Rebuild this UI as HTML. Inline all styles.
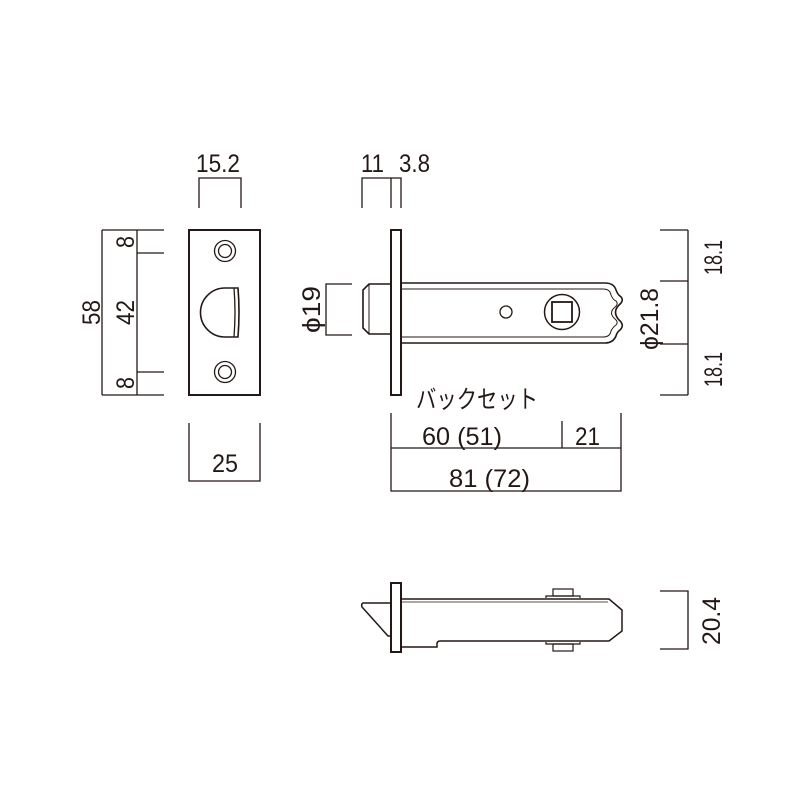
<!DOCTYPE html>
<html><head><meta charset="utf-8"><style>
html,body{margin:0;padding:0;background:#fff;width:800px;height:800px;overflow:hidden}
svg{display:block}
text{font-family:"Liberation Sans","Noto Sans CJK JP",sans-serif;font-size:25px;fill:#231815}
</style></head><body>
<svg width="800" height="800" viewBox="0 0 800 800" xmlns="http://www.w3.org/2000/svg">
<g fill="none" stroke="#231815" stroke-width="1.3">
<path d="M102 230H164M102 395H164M137 253H164M137 372H164M102 230V395M137 230V395"/>
<path d="M199 208V178H241V208"/>
<path d="M189 423V481H260V423"/>
<rect x="189" y="230" width="71" height="165" stroke-width="2"/>
<circle cx="225" cy="251" r="10.5"/><circle cx="225" cy="251" r="6.5"/>
<circle cx="225" cy="372" r="10.5"/><circle cx="225" cy="372" r="6.5"/>
<path d="M238 288H225A24.5 24.5 0 0 0 225 337H238Q240 312 238 288Z" stroke-width="1.6"/>
<path d="M234 288Q236 312 234 337"/>
<path d="M362 208V178H401V208M391 178V208"/>
<path d="M352 284H326V335H352"/>
<path d="M660 230H688M660 281H688M660 344H688M660 395H688M688 230V395"/>
<path d="M391 413V491H621V413M562 421V448M391 448H621"/>
<rect x="391" y="230" width="10" height="165" stroke-width="2"/>
<path d="M391 284H369L363 290V328L369 334H391" stroke-width="1.6"/>
<path d="M369 284V334" stroke-width="1"/>
<path d="M401 283H605Q614 283 616 290Q618 295 620 296Q625 300 619 305Q612 312 619 320Q625 325 620 330Q617 332 616 336Q613 343 605 343H401" stroke-width="1.6"/>
<path d="M401 289H603Q610 289 611 295Q613 300 616 301Q619 304 614 308Q609 313 614 318Q619 322 616 325Q613 327 611 331Q610 337 603 337H401" stroke-width="1"/>
<circle cx="506" cy="312" r="6"/>
<circle cx="562" cy="312" r="17.5" stroke-width="1.5"/>
<rect x="552" y="302" width="20" height="20" stroke-width="1.8"/>
<path d="M660 591H688V649H660"/>
<rect x="391" y="583" width="10" height="69" stroke-width="2"/>
<path d="M391 603H363Q361 604 362 607L388 636H391" stroke-width="1.5"/>
<path d="M401 599H609L622 610V631L609 641H440Q437 641 437 644V647H401" stroke-width="1.5"/>
<path d="M401 602H608" stroke-width="0.8"/>
<path d="M546 598V596H580V598M546 642V644H580V642" stroke-width="1.2"/>
<rect x="553" y="589" width="20" height="7" stroke-width="1.2"/>
<rect x="553" y="644" width="20" height="7" stroke-width="1.2"/>
</g>
<text x="196" y="172" textLength="44" lengthAdjust="spacingAndGlyphs">15.2</text>
<text x="212" y="472" textLength="26" lengthAdjust="spacingAndGlyphs">25</text>
<text transform="translate(100 325) rotate(-90)" textLength="25" lengthAdjust="spacingAndGlyphs">58</text>
<text transform="translate(134 325) rotate(-90)" textLength="25" lengthAdjust="spacingAndGlyphs">42</text>
<text transform="translate(134 248) rotate(-90)" textLength="12" lengthAdjust="spacingAndGlyphs">8</text>
<text transform="translate(134 389) rotate(-90)" textLength="12" lengthAdjust="spacingAndGlyphs">8</text>
<text x="361" y="172" textLength="23" lengthAdjust="spacingAndGlyphs">11</text>
<text x="399" y="172" textLength="31" lengthAdjust="spacingAndGlyphs">3.8</text>
<text transform="translate(320 333) rotate(-90)" textLength="47" lengthAdjust="spacingAndGlyphs">ϕ19</text>
<text transform="translate(658 350) rotate(-90)" textLength="62" lengthAdjust="spacingAndGlyphs">ϕ21.8</text>
<text transform="translate(722 275) rotate(-90)" textLength="35" lengthAdjust="spacingAndGlyphs">18.1</text>
<text transform="translate(722 387) rotate(-90)" textLength="35" lengthAdjust="spacingAndGlyphs">18.1</text>
<text transform="translate(720 645) rotate(-90)" textLength="48" lengthAdjust="spacingAndGlyphs">20.4</text>
<text x="416" y="408" textLength="122" lengthAdjust="spacingAndGlyphs">バックセット</text>
<text x="422" y="445" textLength="80" lengthAdjust="spacingAndGlyphs">60 (51)</text>
<text x="575" y="445" textLength="25" lengthAdjust="spacingAndGlyphs">21</text>
<text x="449" y="487" textLength="81" lengthAdjust="spacingAndGlyphs">81 (72)</text>
</svg>
</body></html>
